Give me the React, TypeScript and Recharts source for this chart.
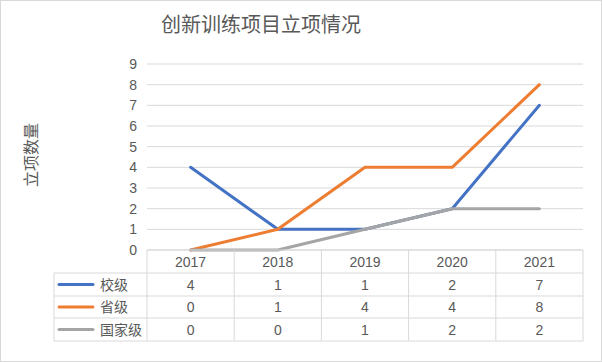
import React from 'react';
import { LineChart, Line, XAxis, YAxis, CartesianGrid, Customized } from 'recharts';

const years = ['2017', '2018', '2019', '2020', '2021'];
const schoolLevel = [4, 1, 1, 2, 7];
const provinceLevel = [0, 1, 4, 4, 8];
const nationalLevel = [0, 0, 1, 2, 2];
const yTicks = [0, 1, 2, 3, 4, 5, 6, 7, 8, 9];
const seriesNames = ['校级', '省级', '国家级'];
const seriesKeys = ['school', 'province', 'national'];
const seriesColors = ['#4472C4', '#ED7D31', '#A5A5A5'];
const seriesValues = [schoolLevel, provinceLevel, nationalLevel];
const title = '创新训练项目立项情况';
const yTitle = '立项数量';

const data = years.map((y, i) => ({
  year: y,
  school: schoolLevel[i],
  province: provinceLevel[i],
  national: nationalLevel[i],
}));

const W = 602;
const H = 362;
const PLOT_LEFT = 147;
const PLOT_RIGHT = 583;
const PLOT_TOP = 64;
const PLOT_BOTTOM = 250;
const TABLE_BOTTOM = 341;
const ROW_LINES = [250, 273, 296, 318, 341];
const LEGEND_LEFT = 54;
const GRID = '#d9d9d9';
const TEXT = '#595959';
const FONT = "'Liberation Sans', 'Noto Sans CJK SC', sans-serif";
const BAND = (PLOT_RIGHT - PLOT_LEFT) / years.length;

const rowCenter = (r: number) => (ROW_LINES[r] + ROW_LINES[r + 1]) / 2;

const TableTick = (props: any) => {
  const { x, payload } = props;
  const i = years.indexOf(payload.value);
  const left = x - BAND / 2;
  const right = x + BAND / 2;
  const top = ROW_LINES[0];
  const bottom = ROW_LINES[ROW_LINES.length - 1];
  return (
    <g>
      {ROW_LINES.map((yy, k) => (
        <line key={'h' + k} x1={left} x2={right} y1={yy} y2={yy} stroke={GRID} strokeWidth={1} />
      ))}
      {i === 0 && <line x1={left} x2={left} y1={top} y2={bottom} stroke={GRID} strokeWidth={1} />}
      <line x1={right} x2={right} y1={top} y2={bottom} stroke={GRID} strokeWidth={1} />
      <text x={x} y={rowCenter(0)} textAnchor="middle" dominantBaseline="central" fill={TEXT} fontSize={14} fontFamily={FONT}>
        {payload.value}
      </text>
      {seriesValues.map((vals, k) => (
        <text key={'v' + k} x={x} y={rowCenter(k + 1)} textAnchor="middle" dominantBaseline="central" fill={TEXT} fontSize={14} fontFamily={FONT}>
          {vals[i]}
        </text>
      ))}
      {i === 0 && (
        <g>
          {ROW_LINES.slice(1).map((yy, k) => (
            <line key={'lh' + k} x1={LEGEND_LEFT} x2={left} y1={yy} y2={yy} stroke={GRID} strokeWidth={1} />
          ))}
          <line x1={LEGEND_LEFT} x2={LEGEND_LEFT} y1={ROW_LINES[1]} y2={bottom} stroke={GRID} strokeWidth={1} />
          {seriesNames.map((name, k) => (
            <g key={'lg' + k}>
              <line x1={59} x2={93} y1={rowCenter(k + 1)} y2={rowCenter(k + 1)} stroke={seriesColors[k]} strokeWidth={3} strokeLinecap="round" />
              <text x={100} y={rowCenter(k + 1)} dominantBaseline="central" fill={TEXT} fontSize={14} fontFamily={FONT}>
                {name}
              </text>
            </g>
          ))}
        </g>
      )}
    </g>
  );
};

const Decorations = () => (
  <g>
    <rect x={0.5} y={0.5} width={W - 1} height={H - 1} fill="none" stroke={GRID} strokeWidth={1} />
    <text x={261} y={25} textAnchor="middle" dominantBaseline="central" fill={TEXT} fontSize={20} fontFamily={FONT}>
      {title}
    </text>
    <text
      x={31}
      y={155}
      textAnchor="middle"
      dominantBaseline="central"
      fill={TEXT}
      fontSize={16}
      fontFamily={FONT}
      transform="rotate(-90 31 155)"
    >
      {yTitle}
    </text>
  </g>
);

export default function App() {
  return (
    <div style={{ position: 'absolute', left: 0, top: 0, width: W, height: H, background: '#fff' }}>
      <LineChart
        width={W}
        height={H}
        data={data}
        margin={{ top: PLOT_TOP, right: W - PLOT_RIGHT, bottom: H - TABLE_BOTTOM, left: PLOT_LEFT - 40 }}
      >
        <CartesianGrid vertical={false} stroke={GRID} strokeWidth={1} />
        <XAxis
          dataKey="year"
          height={TABLE_BOTTOM - PLOT_BOTTOM}
          axisLine={false}
          tickLine={false}
          interval={0}
          padding={{ left: BAND / 2, right: BAND / 2 }}
          tick={<TableTick />}
        />
        <YAxis
          width={40}
          domain={[0, 9]}
          ticks={yTicks}
          interval={0}
          axisLine={false}
          tickLine={false}
          tickMargin={4}
          tick={{ fill: TEXT, fontSize: 14, fontFamily: FONT }}
        />
        {seriesKeys.map((k, idx) => (
          <Line
            key={k}
            type="linear"
            dataKey={k}
            name={seriesNames[idx]}
            stroke={seriesColors[idx]}
            strokeWidth={3}
            strokeLinecap="round"
            strokeLinejoin="round"
            dot={false}
            activeDot={false}
            isAnimationActive={false}
          />
        ))}
        <Customized component={Decorations} />
      </LineChart>
    </div>
  );
}
